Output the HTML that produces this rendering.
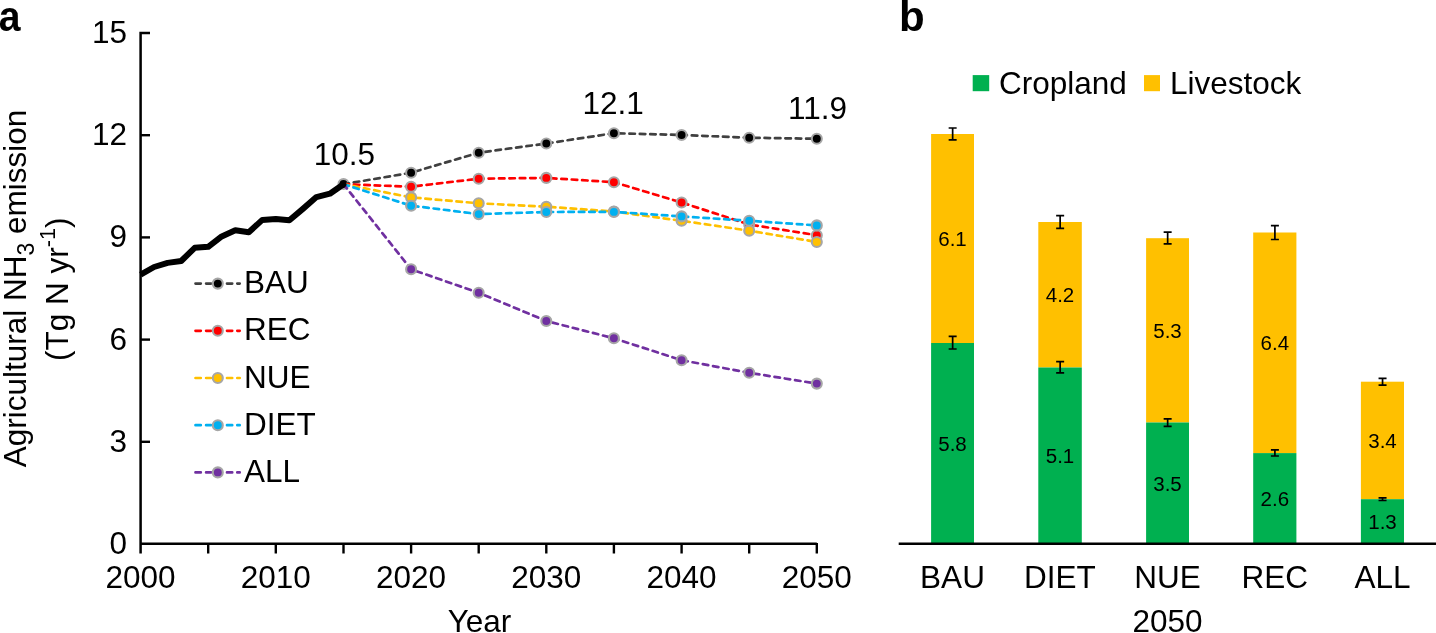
<!DOCTYPE html>
<html><head><meta charset="utf-8"><style>
html,body{margin:0;padding:0;background:#fff;width:1436px;height:633px;overflow:hidden}
svg{display:block;font-family:"Liberation Sans", sans-serif;will-change:transform}
</style></head><body>
<svg width="1436" height="633" viewBox="0 0 1436 633">
<text transform="translate(-1.2,31.1) scale(0.92,1)" font-size="42.5" font-weight="bold">a</text>
<text x="899" y="31" font-size="42" font-weight="bold">b</text>
<text transform="translate(26,288.5) rotate(-90)" text-anchor="middle" font-size="31.5">Agricultural NH<tspan font-size="23" dy="8">3</tspan><tspan dy="-8"> emission</tspan></text>
<text transform="translate(68,289.3) rotate(-90)" text-anchor="middle" font-size="31.5">(Tg N yr<tspan font-size="21.5" dy="-13.5">-1</tspan><tspan dy="13.5">)</tspan></text>
<path d="M150,33 H140.6 V553.5" fill="none" stroke="#000" stroke-width="2.5"/>
<path d="M140.6,543.8 H816.8" fill="none" stroke="#000" stroke-width="2.4"/>
<line x1="140.6" x2="150" y1="441.8" y2="441.8" stroke="#000" stroke-width="2.4"/>
<line x1="140.6" x2="150" y1="339.6" y2="339.6" stroke="#000" stroke-width="2.4"/>
<line x1="140.6" x2="150" y1="237.4" y2="237.4" stroke="#000" stroke-width="2.4"/>
<line x1="140.6" x2="150" y1="135.2" y2="135.2" stroke="#000" stroke-width="2.4"/>
<line x1="208.2" x2="208.2" y1="543" y2="553.5" stroke="#000" stroke-width="2.4"/>
<line x1="275.8" x2="275.8" y1="543" y2="553.5" stroke="#000" stroke-width="2.4"/>
<line x1="343.5" x2="343.5" y1="543" y2="553.5" stroke="#000" stroke-width="2.4"/>
<line x1="411.1" x2="411.1" y1="543" y2="553.5" stroke="#000" stroke-width="2.4"/>
<line x1="478.7" x2="478.7" y1="543" y2="553.5" stroke="#000" stroke-width="2.4"/>
<line x1="546.3" x2="546.3" y1="543" y2="553.5" stroke="#000" stroke-width="2.4"/>
<line x1="613.9" x2="613.9" y1="543" y2="553.5" stroke="#000" stroke-width="2.4"/>
<line x1="681.6" x2="681.6" y1="543" y2="553.5" stroke="#000" stroke-width="2.4"/>
<line x1="749.2" x2="749.2" y1="543" y2="553.5" stroke="#000" stroke-width="2.4"/>
<line x1="816.8" x2="816.8" y1="543" y2="553.5" stroke="#000" stroke-width="2.4"/>
<text x="127" y="554.0" text-anchor="end" font-size="31.5">0</text>
<text x="127" y="451.8" text-anchor="end" font-size="31.5">3</text>
<text x="127" y="349.6" text-anchor="end" font-size="31.5">6</text>
<text x="127" y="247.4" text-anchor="end" font-size="31.5">9</text>
<text x="127" y="145.2" text-anchor="end" font-size="31.5">12</text>
<text x="127" y="42.9" text-anchor="end" font-size="31.5">15</text>
<text x="140.6" y="588" text-anchor="middle" font-size="31.5">2000</text>
<text x="275.8" y="588" text-anchor="middle" font-size="31.5">2010</text>
<text x="411.1" y="588" text-anchor="middle" font-size="31.5">2020</text>
<text x="546.3" y="588" text-anchor="middle" font-size="31.5">2030</text>
<text x="681.6" y="588" text-anchor="middle" font-size="31.5">2040</text>
<text x="816.8" y="588" text-anchor="middle" font-size="31.5">2050</text>
<text x="479.5" y="632" text-anchor="middle" font-size="31.5">Year</text>
<circle cx="343.5" cy="184" r="5" fill="#000" stroke="#A6A6A6" stroke-width="2.1"/>
<polyline points="343.5,184.2 411.1,172.7 478.7,152.7 546.3,143.5 613.9,133.2 681.6,135 749.2,137.7 816.8,138.8" fill="none" stroke="#404040" stroke-width="2.7" stroke-dasharray="5.5 4.9" stroke-linecap="round"/>
<polyline points="343.5,184.2 411.1,186.7 478.7,178.7 546.3,177.9 613.9,182.2 681.6,202.5 749.2,224.5 816.8,235.2" fill="none" stroke="#FF0000" stroke-width="2.7" stroke-dasharray="5.5 4.9" stroke-linecap="round"/>
<polyline points="343.5,184.2 411.1,197.4 478.7,203.3 546.3,206.7 613.9,211.5 681.6,220.8 749.2,230.7 816.8,242" fill="none" stroke="#FFC000" stroke-width="2.7" stroke-dasharray="5.5 4.9" stroke-linecap="round"/>
<polyline points="343.5,184.2 411.1,205.7 478.7,214.1 546.3,212 613.9,211.9 681.6,216.4 749.2,220.8 816.8,225.4" fill="none" stroke="#00B0F0" stroke-width="2.7" stroke-dasharray="5.5 4.9" stroke-linecap="round"/>
<polyline points="343.5,184.2 411.1,269.3 478.7,292.8 546.3,321 613.9,338.3 681.6,360.2 749.2,372.8 816.8,383.6" fill="none" stroke="#7030A0" stroke-width="2.7" stroke-dasharray="5.5 4.9" stroke-linecap="round"/>
<polyline points="140.6,274.6 154.1,267.0 167.6,262.9 181.2,261 194.7,247.8 208.2,246.8 221.7,236.4 235.3,230.3 248.8,232.2 262.3,219.9 275.8,218.9 289.4,220.3 302.9,208.9 316.4,197.1 329.9,193.7 343.5,184.2" fill="none" stroke="#000" stroke-width="6" stroke-linejoin="round" stroke-linecap="butt"/>
<circle cx="343.5" cy="184.2" r="3" fill="#000"/>
<circle cx="411.1" cy="172.7" r="5" fill="#000000" stroke="#A6A6A6" stroke-width="2.1"/>
<circle cx="478.7" cy="152.7" r="5" fill="#000000" stroke="#A6A6A6" stroke-width="2.1"/>
<circle cx="546.3" cy="143.5" r="5" fill="#000000" stroke="#A6A6A6" stroke-width="2.1"/>
<circle cx="613.9" cy="133.2" r="5" fill="#000000" stroke="#A6A6A6" stroke-width="2.1"/>
<circle cx="681.6" cy="135" r="5" fill="#000000" stroke="#A6A6A6" stroke-width="2.1"/>
<circle cx="749.2" cy="137.7" r="5" fill="#000000" stroke="#A6A6A6" stroke-width="2.1"/>
<circle cx="816.8" cy="138.8" r="5" fill="#000000" stroke="#A6A6A6" stroke-width="2.1"/>
<circle cx="411.1" cy="186.7" r="5" fill="#FF0000" stroke="#A6A6A6" stroke-width="2.1"/>
<circle cx="478.7" cy="178.7" r="5" fill="#FF0000" stroke="#A6A6A6" stroke-width="2.1"/>
<circle cx="546.3" cy="177.9" r="5" fill="#FF0000" stroke="#A6A6A6" stroke-width="2.1"/>
<circle cx="613.9" cy="182.2" r="5" fill="#FF0000" stroke="#A6A6A6" stroke-width="2.1"/>
<circle cx="681.6" cy="202.5" r="5" fill="#FF0000" stroke="#A6A6A6" stroke-width="2.1"/>
<circle cx="749.2" cy="224.5" r="5" fill="#FF0000" stroke="#A6A6A6" stroke-width="2.1"/>
<circle cx="816.8" cy="235.2" r="5" fill="#FF0000" stroke="#A6A6A6" stroke-width="2.1"/>
<circle cx="411.1" cy="197.4" r="5" fill="#FFC000" stroke="#A6A6A6" stroke-width="2.1"/>
<circle cx="478.7" cy="203.3" r="5" fill="#FFC000" stroke="#A6A6A6" stroke-width="2.1"/>
<circle cx="546.3" cy="206.7" r="5" fill="#FFC000" stroke="#A6A6A6" stroke-width="2.1"/>
<circle cx="613.9" cy="211.5" r="5" fill="#FFC000" stroke="#A6A6A6" stroke-width="2.1"/>
<circle cx="681.6" cy="220.8" r="5" fill="#FFC000" stroke="#A6A6A6" stroke-width="2.1"/>
<circle cx="749.2" cy="230.7" r="5" fill="#FFC000" stroke="#A6A6A6" stroke-width="2.1"/>
<circle cx="816.8" cy="242" r="5" fill="#FFC000" stroke="#A6A6A6" stroke-width="2.1"/>
<circle cx="411.1" cy="205.7" r="5" fill="#00B0F0" stroke="#A6A6A6" stroke-width="2.1"/>
<circle cx="478.7" cy="214.1" r="5" fill="#00B0F0" stroke="#A6A6A6" stroke-width="2.1"/>
<circle cx="546.3" cy="212" r="5" fill="#00B0F0" stroke="#A6A6A6" stroke-width="2.1"/>
<circle cx="613.9" cy="211.9" r="5" fill="#00B0F0" stroke="#A6A6A6" stroke-width="2.1"/>
<circle cx="681.6" cy="216.4" r="5" fill="#00B0F0" stroke="#A6A6A6" stroke-width="2.1"/>
<circle cx="749.2" cy="220.8" r="5" fill="#00B0F0" stroke="#A6A6A6" stroke-width="2.1"/>
<circle cx="816.8" cy="225.4" r="5" fill="#00B0F0" stroke="#A6A6A6" stroke-width="2.1"/>
<circle cx="411.1" cy="269.3" r="5" fill="#7030A0" stroke="#A6A6A6" stroke-width="2.1"/>
<circle cx="478.7" cy="292.8" r="5" fill="#7030A0" stroke="#A6A6A6" stroke-width="2.1"/>
<circle cx="546.3" cy="321" r="5" fill="#7030A0" stroke="#A6A6A6" stroke-width="2.1"/>
<circle cx="613.9" cy="338.3" r="5" fill="#7030A0" stroke="#A6A6A6" stroke-width="2.1"/>
<circle cx="681.6" cy="360.2" r="5" fill="#7030A0" stroke="#A6A6A6" stroke-width="2.1"/>
<circle cx="749.2" cy="372.8" r="5" fill="#7030A0" stroke="#A6A6A6" stroke-width="2.1"/>
<circle cx="816.8" cy="383.6" r="5" fill="#7030A0" stroke="#A6A6A6" stroke-width="2.1"/>
<path d="M195.5,283.6H200.8M206.1,283.6H211M227,283.6H232.2M237.3,283.6H239.7" stroke="#404040" stroke-width="2.7" stroke-linecap="round" fill="none"/>
<circle cx="217.8" cy="283.6" r="5" fill="#000000" stroke="#A6A6A6" stroke-width="2.1"/>
<text x="244" y="293.2" font-size="31.5">BAU</text>
<path d="M195.5,330.8H200.8M206.1,330.8H211M227,330.8H232.2M237.3,330.8H239.7" stroke="#FF0000" stroke-width="2.7" stroke-linecap="round" fill="none"/>
<circle cx="217.8" cy="330.8" r="5" fill="#FF0000" stroke="#A6A6A6" stroke-width="2.1"/>
<text x="244" y="340.4" font-size="31.5">REC</text>
<path d="M195.5,378.0H200.8M206.1,378.0H211M227,378.0H232.2M237.3,378.0H239.7" stroke="#FFC000" stroke-width="2.7" stroke-linecap="round" fill="none"/>
<circle cx="217.8" cy="378.0" r="5" fill="#FFC000" stroke="#A6A6A6" stroke-width="2.1"/>
<text x="244" y="387.6" font-size="31.5">NUE</text>
<path d="M195.5,425.2H200.8M206.1,425.2H211M227,425.2H232.2M237.3,425.2H239.7" stroke="#00B0F0" stroke-width="2.7" stroke-linecap="round" fill="none"/>
<circle cx="217.8" cy="425.2" r="5" fill="#00B0F0" stroke="#A6A6A6" stroke-width="2.1"/>
<text x="244" y="434.8" font-size="31.5">DIET</text>
<path d="M195.5,472.4H200.8M206.1,472.4H211M227,472.4H232.2M237.3,472.4H239.7" stroke="#7030A0" stroke-width="2.7" stroke-linecap="round" fill="none"/>
<circle cx="217.8" cy="472.4" r="5" fill="#7030A0" stroke="#A6A6A6" stroke-width="2.1"/>
<text x="244" y="482.0" font-size="31.5">ALL</text>
<text x="344.3" y="165.4" text-anchor="middle" font-size="31.5">10.5</text>
<text x="613.2" y="114.1" text-anchor="middle" font-size="31.5">12.1</text>
<text x="817.6" y="119" text-anchor="middle" font-size="31.5">11.9</text>
<rect x="931.1" y="134.0" width="42.9" height="209.0" fill="#FFC000"/>
<rect x="931.1" y="343.0" width="42.9" height="200.8" fill="#00B050"/>
<path d="M948.65,128.0 h8 M952.65,128.0 V139.9 M948.65,139.9 h8" stroke="#000" stroke-width="1.7" fill="none"/>
<path d="M948.65,336.3 h8 M952.65,336.3 V349.0 M948.65,349.0 h8" stroke="#000" stroke-width="1.7" fill="none"/>
<text x="952.5" y="246.1" text-anchor="middle" font-size="20.5">6.1</text>
<text x="952.5" y="451.0" text-anchor="middle" font-size="20.5">5.8</text>
<text x="952.5" y="588.2" text-anchor="middle" font-size="31.5">BAU</text>
<rect x="1038.3" y="222.0" width="43.5" height="145.5" fill="#FFC000"/>
<rect x="1038.3" y="367.5" width="43.5" height="176.3" fill="#00B050"/>
<path d="M1056.15,215.7 h8 M1060.15,215.7 V228.3 M1056.15,228.3 h8" stroke="#000" stroke-width="1.7" fill="none"/>
<path d="M1056.15,361.6 h8 M1060.15,361.6 V372.8 M1056.15,372.8 h8" stroke="#000" stroke-width="1.7" fill="none"/>
<text x="1060.0" y="302.2" text-anchor="middle" font-size="20.5">4.2</text>
<text x="1060.0" y="463.4" text-anchor="middle" font-size="20.5">5.1</text>
<text x="1060.0" y="588.2" text-anchor="middle" font-size="31.5">DIET</text>
<rect x="1146.1" y="238.2" width="42.9" height="184.3" fill="#FFC000"/>
<rect x="1146.1" y="422.5" width="42.9" height="121.3" fill="#00B050"/>
<path d="M1163.65,232.2 h8 M1167.65,232.2 V243.9 M1163.65,243.9 h8" stroke="#000" stroke-width="1.7" fill="none"/>
<path d="M1163.65,418.8 h8 M1167.65,418.8 V426.3 M1163.65,426.3 h8" stroke="#000" stroke-width="1.7" fill="none"/>
<text x="1167.5" y="338.0" text-anchor="middle" font-size="20.5">5.3</text>
<text x="1167.5" y="490.7" text-anchor="middle" font-size="20.5">3.5</text>
<text x="1167.5" y="588.2" text-anchor="middle" font-size="31.5">NUE</text>
<rect x="1253.2" y="232.5" width="43.2" height="220.6" fill="#FFC000"/>
<rect x="1253.2" y="453.1" width="43.2" height="90.7" fill="#00B050"/>
<path d="M1270.90,225.7 h8 M1274.90,225.7 V239.5 M1270.90,239.5 h8" stroke="#000" stroke-width="1.7" fill="none"/>
<path d="M1270.90,449.8 h8 M1274.90,449.8 V456.0 M1270.90,456.0 h8" stroke="#000" stroke-width="1.7" fill="none"/>
<text x="1274.8" y="350.1" text-anchor="middle" font-size="20.5">6.4</text>
<text x="1274.8" y="506.1" text-anchor="middle" font-size="20.5">2.6</text>
<text x="1274.8" y="588.2" text-anchor="middle" font-size="31.5">REC</text>
<rect x="1360.9" y="381.7" width="43.1" height="117.5" fill="#FFC000"/>
<rect x="1360.9" y="499.2" width="43.1" height="44.6" fill="#00B050"/>
<path d="M1378.55,378.3 h8 M1382.55,378.3 V385.1 M1378.55,385.1 h8" stroke="#000" stroke-width="1.7" fill="none"/>
<path d="M1378.55,497.8 h8 M1382.55,497.8 V500.5 M1378.55,500.5 h8" stroke="#000" stroke-width="1.7" fill="none"/>
<text x="1382.5" y="448.2" text-anchor="middle" font-size="20.5">3.4</text>
<text x="1382.5" y="529.1" text-anchor="middle" font-size="20.5">1.3</text>
<text x="1382.5" y="588.2" text-anchor="middle" font-size="31.5">ALL</text>
<line x1="898.7" x2="1436" y1="543.8" y2="543.8" stroke="#000" stroke-width="2.6"/>
<text x="1167.5" y="632" text-anchor="middle" font-size="31.5">2050</text>
<rect x="972.7" y="75.1" width="16.5" height="16.1" fill="#00B050"/>
<text x="999" y="93.6" font-size="31.5">Cropland</text>
<rect x="1144" y="75.1" width="16.0" height="16.1" fill="#FFC000"/>
<text x="1170" y="93.6" font-size="31.5">Livestock</text>
</svg>
</body></html>
